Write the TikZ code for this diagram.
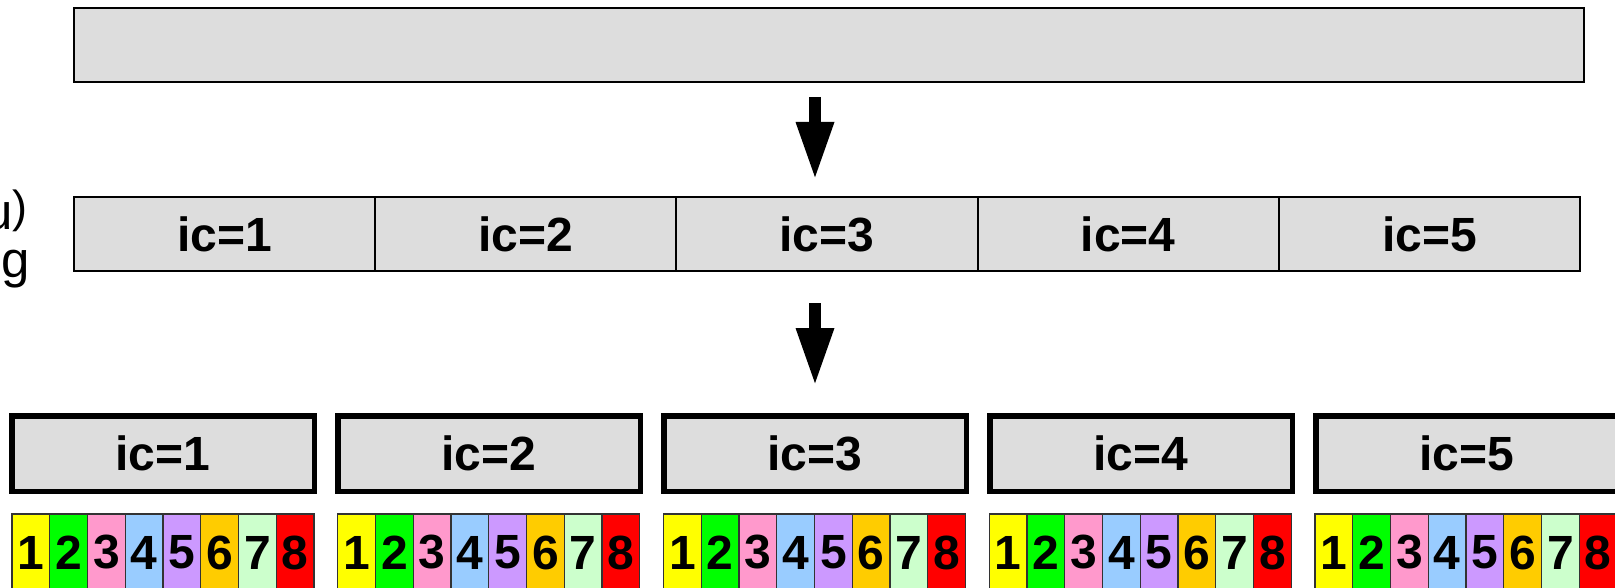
\documentclass[tikz,border=0pt]{standalone}
\usepackage{fontspec}
\setmainfont{Liberation Sans}
\usetikzlibrary{arrows.meta}
\definecolor{boxgray}{HTML}{DDDDDD}
\definecolor{c1}{HTML}{FFFF00}
\definecolor{c2}{HTML}{00FF00}
\definecolor{c3}{HTML}{FF99CC}
\definecolor{c4}{HTML}{99CCFF}
\definecolor{c5}{HTML}{CC99FF}
\definecolor{c6}{HTML}{FFCC00}
\definecolor{c7}{HTML}{CCFFCC}
\definecolor{c8}{HTML}{FF0000}
\definecolor{cellline}{HTML}{333333}
\begin{document}
\begin{tikzpicture}[x=1pt,y=-1pt,
  bigfont/.style={font=\fontsize{48}{56}\selectfont\bfseries},
  thinbox/.style={draw=black,fill=boxgray,line width=2pt,inner sep=0pt,minimum height=74pt,minimum width=#1,bigfont},
  thickbox/.style={draw=black,fill=boxgray,line width=5.5pt,inner sep=0pt,minimum height=75.5pt,minimum width=302.5pt,bigfont},
  colcell/.style={draw=cellline,fill=#1,line width=1.2pt,inner sep=0pt,minimum height=77pt,minimum width=37.75pt,bigfont},
  fatarrow/.style={line width=12pt,-{Triangle[length=58pt,width=35pt]}},
  sidetext/.style={anchor=base east,inner sep=0pt,font=\fontsize{51}{60}\selectfont}]
\useasboundingbox (0,0) rectangle (1615,588);
\clip (0,0) rectangle (1615,588);
% top bar
\node[thinbox=1510pt] (top) at (829,45) {};
% middle row
\foreach \i in {1,...,5}{
  \node[thinbox=301.2pt] (m\i) at ({74+150.6+301.2*(\i-1)},234) {ic=\i};
}
% bottom boxes
\foreach \i in {1,...,5}{
  \node[thickbox] (b\i) at ({163+326*(\i-1)},453.5) {ic=\i};
  \foreach \j in {1,...,8}{
    \node[colcell=c\j] (c\i-\j) at ({12+325.75*(\i-1)+37.75*(\j-1)+18.875},552.5) {\j};
  }
}
% arrows
\coordinate (a1s) at (815,97);
\coordinate (a1e) at (815,180);
\coordinate (a2s) at (815,303);
\coordinate (a2e) at (815,386);
\draw[fatarrow] (a1s) -- (a1e);
\draw[fatarrow] (a2s) -- (a2e);
% clipped side text
\node[sidetext] (lt1) at (28,230) {u\raisebox{7.5pt}{\fontsize{45}{54}\selectfont)}};
\node[sidetext] (lt2) at (30,278) {ng};
\end{tikzpicture}
\end{document}
